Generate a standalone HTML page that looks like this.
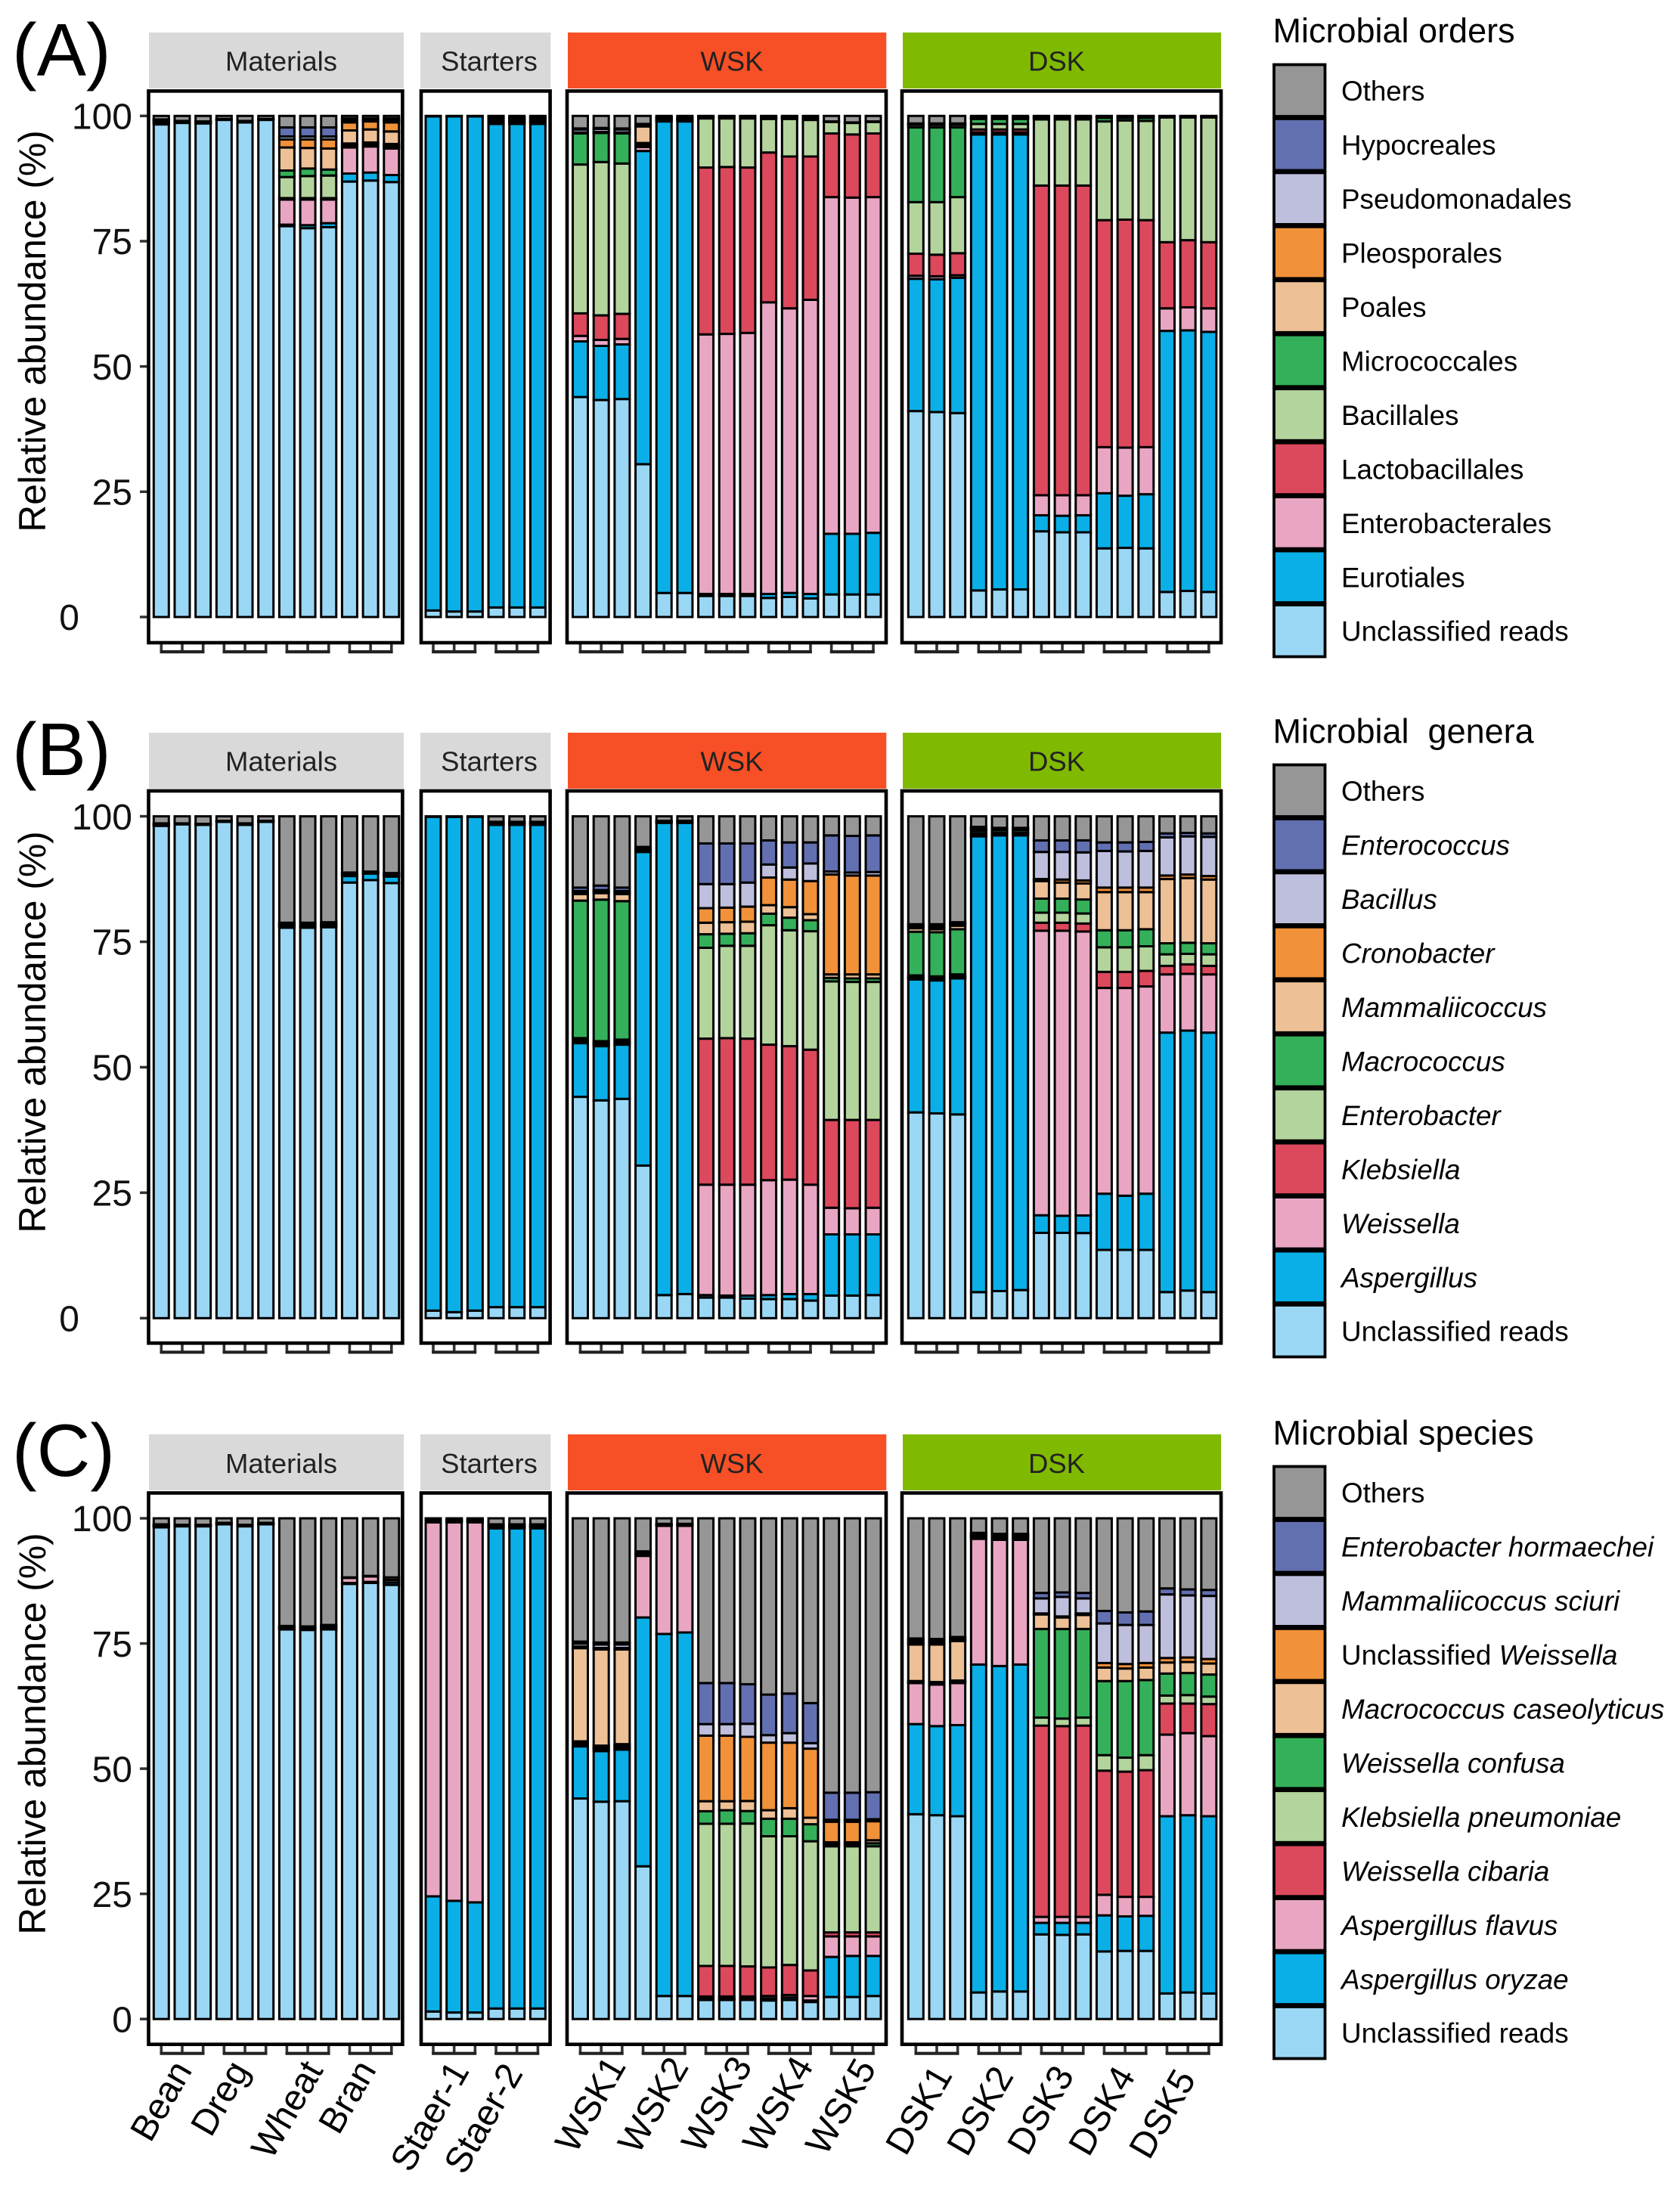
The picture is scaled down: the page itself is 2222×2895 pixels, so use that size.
<!DOCTYPE html>
<html lang="en">
<head>
<meta charset="utf-8">
<title>Microbial composition stacked bars</title>
<style>
html,body{margin:0;padding:0;background:#fff;}
svg{display:block;font-family:"Liberation Sans",Arial,sans-serif;}
text{white-space:pre;}
</style>
</head>
<body>
<svg id="chart" xmlns="http://www.w3.org/2000/svg" width="2222" height="2895" viewBox="0 0 2222 2895"></svg>
<script>
/* ---------- categories and tick labels ---------- */
const facetNames = ["Materials", "Starters", "WSK", "DSK"];
const facetBarCounts = [12, 6, 15, 15];
const sampleGroups = [
  ["Bean", "Dreg", "Wheat", "Bran"],
  ["Staer-1", "Staer-2"],
  ["WSK1", "WSK2", "WSK3", "WSK4", "WSK5"],
  ["DSK1", "DSK2", "DSK3", "DSK4", "DSK5"]
];
const yTicks = [0, 25, 50, 75, 100];
const panelLetters = ["(A)", "(B)", "(C)"];
const yAxisTitle = "Relative abundance (%)";
const legendTitles = ["Microbial orders", "Microbial  genera", "Microbial species"];
const orderNames = ["Unclassified reads","Eurotiales","Enterobacterales","Lactobacillales","Bacillales","Micrococcales","Poales","Pleosporales","Pseudomonadales","Hypocreales","Others"];
const generaNames = ["Unclassified reads","Aspergillus","Weissella","Klebsiella","Enterobacter","Macrococcus","Mammaliicoccus","Cronobacter","Bacillus","Enterococcus","Others"];
const speciesNames = ["Unclassified reads","Aspergillus oryzae","Aspergillus flavus","Weissella cibaria","Klebsiella pneumoniae","Weissella confusa","Macrococcus caseolyticus","Unclassified Weissella","Mammaliicoccus sciuri","Enterobacter hormaechei","Others"];

/* ---------- series values: one row per bar, segments bottom to top (% abundance) ---------- */
const ordersBars = [
[98.3,.2,.2,.2,.1,.1,.1,.1,0,0,.7],
[98.6,.1,.1,.1,.1,0,0,0,0,0,1.0],
[98.5,.1,.1,.1,.1,0,0,0,0,0,1.1],
[99.2,.1,.1,0,0,0,0,0,0,0,.6],
[98.7,.1,.1,.1,0,0,0,0,0,0,1.0],
[99.2,.1,.1,0,0,0,0,0,0,0,.6],
[78.0,.3,5.0,.3,4.2,1.3,4.6,1.6,.6,1.8,2.3],
[77.6,.6,5.1,.3,4.4,1.5,4.1,1.7,.6,1.8,2.3],
[77.8,.8,4.7,.3,4.5,1.2,4.2,1.8,.6,1.8,2.3],
[86.9,1.6,5.2,.2,.3,.3,2.6,1.6,.4,.4,.5],
[87.1,1.6,5.2,.3,.3,.2,2.6,1.6,.4,.2,.5],
[86.8,1.4,5.3,.3,.3,.3,2.5,1.8,.4,.4,.5],
[1.3,98.6,0,0,0,0,0,0,0,0,.1],
[1.1,98.8,0,0,0,0,0,0,0,0,.1],
[1.1,98.8,0,0,0,0,0,0,0,0,.1],
[1.9,96.5,.2,.2,.2,.2,.2,.2,.1,.1,.2],
[1.9,96.5,.2,.2,.2,.2,.2,.2,.1,.1,.2],
[1.9,96.5,.2,.2,.2,.2,.2,.2,.1,.1,.2],
[43.9,11.1,1.1,4.5,29.7,6.2,0,.2,.6,.2,2.5],
[43.3,10.8,1.2,4.9,30.6,5.8,0,.2,.6,.2,2.4],
[43.5,10.9,1.1,5.0,30.0,6.0,0,.2,.6,.2,2.5],
[30.5,62.5,.8,.3,.3,.2,3.3,.2,.1,.2,1.6],
[4.8,94.1,.2,.1,.1,.1,.1,.1,.1,.1,.2],
[4.8,94.1,.2,.1,.1,.1,.1,.1,.1,.1,.2],
[4.2,.4,51.8,33.3,9.8,.1,.1,.1,.1,.1,.0],
[4.2,.4,51.9,33.3,9.7,.1,.1,.1,.1,.1,.0],
[4.2,.4,52.1,33.0,9.8,.1,.1,.1,.1,.1,.0],
[3.8,.8,58.2,29.9,6.7,.1,.1,.1,.1,.2,.0],
[4.0,.8,56.8,30.3,7.5,.1,.1,.1,.1,.2,.0],
[3.7,.9,58.7,28.6,7.3,.2,.1,.1,.1,.3,.0],
[4.5,12.1,67.2,12.7,2.3,.1,0,0,0,0,1.1],
[4.5,12.1,67.1,12.6,2.3,.1,0,0,0,0,1.3],
[4.5,12.3,67.0,12.7,2.3,.1,0,0,0,0,1.1],
[41.1,26.4,.6,4.4,10.3,14.9,.5,.1,.1,.1,1.5],
[40.9,26.5,.6,4.3,10.5,14.9,.5,.1,.1,.1,1.5],
[40.7,27.0,.5,4.4,11.2,13.9,.5,.1,.1,.1,1.5],
[5.3,91.0,.4,.6,1.1,1.0,.1,.1,.1,.1,.2],
[5.5,90.8,.4,.6,1.1,1.0,.1,.1,.1,.1,.2],
[5.5,90.8,.4,.6,1.1,1.0,.1,.1,.1,.1,.2],
[17.1,3.2,4.0,61.8,13.2,.3,.1,.1,.1,.1,0],
[16.9,3.3,4.1,61.8,13.2,.3,.1,.1,.1,.1,0],
[16.9,3.4,4.0,61.8,13.2,.3,.1,.1,.1,.1,0],
[13.7,11.0,9.2,45.3,19.7,.7,.1,.1,.1,.1,0],
[13.8,10.4,9.6,45.5,19.8,.5,.1,.1,.1,.1,0],
[13.7,10.8,9.4,45.3,19.8,.6,.1,.1,.1,.1,0],
[5.0,52.1,4.5,13.2,24.9,.1,.1,0,0,0,.1],
[5.2,52.0,4.6,13.4,24.5,.1,.1,.1,0,0,0],
[5.0,51.9,4.7,13.2,24.9,.1,.1,0,0,0,.1]
];
const generaBars = [
[98.1,.1,.1,.1,.1,.1,0,0,0,0,1.4],
[98.4,.1,.1,0,0,0,0,0,0,0,1.4],
[98.3,.1,.1,0,0,0,0,0,0,0,1.5],
[98.9,.1,.1,0,0,0,0,0,0,0,.9],
[98.3,.1,.1,.1,0,0,0,0,0,0,1.4],
[98.9,.1,.1,0,0,0,0,0,0,0,.9],
[77.8,.2,.2,.2,.2,.2,0,0,0,0,21.2],
[77.8,.2,.2,.2,.2,.2,0,0,0,0,21.2],
[77.9,.2,.2,.2,.2,.2,0,0,0,0,21.1],
[86.8,1.3,.2,.2,.2,.1,0,0,0,0,11.2],
[87.2,1.3,.1,.1,.1,.1,0,0,0,0,11.0],
[86.7,1.3,.2,.2,.2,.1,0,0,0,0,11.3],
[1.5,98.4,0,0,0,0,0,0,0,0,.1],
[1.2,98.7,0,0,0,0,0,0,0,0,.1],
[1.5,98.4,0,0,0,0,0,0,0,0,.1],
[2.2,96.1,.1,.1,.1,.1,.1,.1,0,0,1.1],
[2.2,96.1,.1,.1,.1,.1,.1,.1,0,0,1.1],
[2.2,96.1,.1,.1,.1,.1,.1,.1,0,0,1.1],
[44.1,10.7,.3,.3,.4,27.4,1.3,.3,.3,.7,14.2],
[43.4,10.8,.3,.3,.4,28.2,1.3,.3,.3,.9,13.8],
[43.7,10.8,.3,.3,.4,27.6,1.4,.3,.3,.7,14.2],
[30.4,62.5,.2,.2,.2,.2,.2,0,0,0,6.1],
[4.6,94.1,.1,.1,.1,.1,0,0,0,0,.9],
[4.8,93.9,.1,.1,.1,.1,0,0,0,0,.9],
[4.1,.5,22.0,29.1,18.1,2.7,2.3,2.9,4.8,8.1,5.4],
[4.1,.4,22.1,29.2,18.4,2.4,2.3,2.9,4.7,8.1,5.4],
[3.9,.6,22.1,29.1,18.5,2.5,2.3,3.0,4.8,7.8,5.4],
[3.8,.8,22.9,27.0,23.8,2.3,1.7,5.5,2.6,4.8,4.8],
[3.8,1.0,22.8,26.6,23.1,2.5,2.1,5.5,2.4,5.0,5.2],
[3.5,1.3,21.8,26.9,23.6,2.2,1.2,6.6,3.5,4.2,5.2],
[4.5,12.2,5.3,17.5,27.6,.7,.7,19.9,.6,7.2,3.8],
[4.5,12.2,5.2,17.6,27.5,.7,.8,19.7,.6,7.3,3.9],
[4.6,12.1,5.3,17.5,27.5,.7,.8,19.7,.7,7.3,3.8],
[41.0,26.5,.2,.2,.4,8.7,.7,.3,.3,.2,21.5],
[40.8,26.5,.2,.2,.4,8.8,.6,.3,.3,.4,21.5],
[40.6,27.1,.2,.2,.4,9.0,.7,.3,.2,.2,21.1],
[5.2,91.0,.2,.2,.2,.5,.2,.2,.2,.2,2.1],
[5.4,90.8,.2,.2,.2,.5,.1,.1,.1,.1,2.3],
[5.6,90.6,.2,.2,.2,.5,.1,.1,.1,.1,2.3],
[17.0,3.5,56.7,1.6,2.0,2.8,3.5,.4,5.4,2.3,4.8],
[17.0,3.4,56.8,1.6,2.0,2.8,3.2,.6,5.5,2.3,4.8],
[17.0,3.5,56.7,1.6,2.0,2.8,3.2,.6,5.6,2.4,4.8],
[13.6,11.2,41.0,3.2,4.9,3.4,7.6,.9,7.3,1.7,5.2],
[13.6,10.8,41.4,3.2,4.9,3.4,7.6,.9,7.2,1.8,5.2],
[13.6,11.2,41.3,3.1,4.9,3.4,7.4,.9,7.3,1.8,5.1],
[5.2,51.7,11.6,1.7,2.3,2.2,12.8,.7,7.6,.8,3.4],
[5.5,51.8,11.3,1.9,2.1,2.2,12.9,.7,7.6,.7,3.3],
[5.2,51.7,11.6,1.7,2.3,2.2,12.7,.7,7.8,.7,3.4]
];
const speciesBars = [
[98.1,.1,.1,.1,.1,.1,.1,0,0,0,1.2],
[98.4,.1,.1,.1,0,0,0,0,0,0,1.3],
[98.4,.1,.1,.1,0,0,0,0,0,0,1.3],
[98.8,.1,.1,.1,0,0,0,0,0,0,.9],
[98.4,.1,.1,.1,0,0,0,0,0,0,1.3],
[98.8,.1,.1,.1,0,0,0,0,0,0,.9],
[77.8,.2,.2,.2,.1,0,0,0,0,0,21.5],
[77.7,.2,.2,.2,.1,0,0,0,0,0,21.6],
[77.8,.2,.2,.3,.2,0,0,0,0,0,21.3],
[86.9,.2,1.0,.1,0,0,0,0,0,0,11.8],
[87.1,.2,1.1,.1,0,0,0,0,0,0,11.5],
[86.7,.5,.5,.5,0,0,0,0,0,0,11.8],
[1.5,23.0,74.7,.1,.1,.1,.1,.1,.1,.1,.1],
[1.3,22.3,75.6,.1,.1,.1,.1,.1,.1,.1,.1],
[1.3,22.0,75.9,.1,.1,.1,.1,.1,.1,.1,.1],
[2.1,95.9,.1,.1,.1,.1,.1,.1,.1,.1,1.2],
[2.1,95.9,.1,.1,.1,.1,.1,.1,.1,.1,1.2],
[2.1,95.9,.1,.1,.1,.1,.1,.1,.1,.1,1.2],
[44.0,10.4,.3,.3,.2,.2,18.6,.3,.6,.4,24.6],
[43.4,10.1,.3,.3,.2,.3,19.2,.3,.7,.4,24.8],
[43.5,10.3,.3,.3,.2,.3,18.9,.3,.7,.4,24.8],
[30.5,49.7,12.3,.2,.2,.2,.2,.1,0,0,6.6],
[4.6,72.3,21.6,.1,.1,.1,.1,0,0,0,1.1],
[4.6,72.6,21.3,.1,.1,.1,.1,0,0,0,1.1],
[3.8,.3,.4,6.1,28.4,2.5,2.0,13.1,2.3,8.2,32.9],
[3.8,.3,.4,6.1,28.4,2.7,1.8,13.1,2.3,8.2,32.9],
[3.8,.3,.4,6.0,28.5,2.5,2.0,12.8,2.6,7.9,33.1],
[3.7,.4,.5,5.7,26.2,3.5,1.7,13.5,1.5,8.1,35.2],
[3.8,.5,.5,6.0,25.7,3.5,2.1,13.1,1.9,7.9,35.0],
[3.4,.3,.9,5.1,25.8,3.4,1.3,13.8,1.1,8.0,36.9],
[4.4,8.0,4.1,.8,17.2,.4,.4,4.1,.4,5.4,54.8],
[4.4,8.2,3.9,.8,17.2,.4,.4,4.1,.4,5.4,54.8],
[4.6,8.0,3.9,.8,17.2,.6,.6,3.8,.4,5.4,54.7],
[40.9,18.0,8.2,.1,.1,.2,7.3,.4,.4,.4,24.0],
[40.7,17.8,8.3,.1,.2,.2,7.5,.4,.4,.3,24.1],
[40.5,18.2,8.4,.2,.1,.2,7.9,.2,.4,.2,23.7],
[5.3,65.5,25.1,.2,.2,.2,.2,.2,.1,.1,2.9],
[5.5,65.0,25.2,.2,.2,.2,.2,.2,.1,.1,3.1],
[5.5,65.3,24.9,.2,.2,.2,.2,.2,.1,.1,3.1],
[16.9,2.3,1.2,38.2,1.6,17.7,2.9,.2,3.0,1.1,14.9],
[16.8,2.4,1.2,38.1,1.5,17.9,2.3,.2,3.9,.9,14.8],
[16.9,2.3,1.2,38.2,1.6,17.7,2.8,.3,3.0,1.1,14.9],
[13.5,7.2,4.1,24.8,3.1,14.8,2.7,.9,7.9,2.5,18.5],
[13.6,6.9,3.9,25.0,2.8,15.3,2.5,.9,7.8,2.5,18.8],
[13.6,7.0,3.8,25.3,3.0,15.0,2.5,.9,7.6,2.7,18.6],
[5.1,35.4,16.3,6.2,1.6,4.4,2.2,.9,12.7,1.2,14.0],
[5.3,35.4,16.4,5.9,1.7,4.4,2.2,.9,12.4,1.2,14.2],
[5.1,35.4,16.0,6.4,1.5,4.4,2.2,.9,12.6,1.2,14.3]
];

/* ---------- layout and styling ---------- */
const SVG_NS = "http://www.w3.org/2000/svg";
const svg = document.getElementById("chart");
const colors = ["#9AD7F5","#09AFE6","#E9A6C2","#DC485C","#B4D49E","#35B05A","#EDC095","#F19139","#BEBEDD","#626FB0","#969696"];
const stripColors = ["#D9D9D9","#D9D9D9","#F75026","#80BA00"];
const facetFirstBar = [213.3, 573, 767.5, 1211.3];
const barStep = 27.68;
const barWidth = 20;
const frameLeft = [196.5, 557, 750, 1193];
const frameRight = [532.4, 727.6, 1172, 1615];
const stripLeft = [197, 556, 751, 1194];
const stripRight = [534, 728.3, 1172.3, 1615];
const stripLabelX = [372, 647, 968, 1397.5];
const panels = [
  {bars: ordersBars, names: orderNames, italic: false, y0: 816, y100: 153.3, frameTop: 120.4, frameBottom: 850, stripTop: 43, stripBase: 93.6, letterBase: 100, titleY: 438, zeroRight: 105, legendBase: 56, keyTop: 84, showLabels: false},
  {bars: generaBars, names: generaNames, italic: true, y0: 1743.3, y100: 1079.6, frameTop: 1046, frameBottom: 1776.3, stripTop: 969, stripBase: 1019.7, letterBase: 1025, titleY: 1365, zeroRight: 105, legendBase: 982.5, keyTop: 1010, showLabels: false},
  {bars: speciesBars, names: speciesNames, italic: true, y0: 2670.2, y100: 2008, frameTop: 1974.5, frameBottom: 2703.7, stripTop: 1897, stripBase: 1948, letterBase: 1952, titleY: 2293, zeroRight: 175, legendBase: 1910.5, keyTop: 1938, showLabels: true}
];
const labelStartX = [199, 279, 359, 448, 543, 614, 761, 844, 928, 1009, 1092, 1198, 1279, 1359, 1440, 1520];
const labelStartY = [2835, 2828, 2858, 2825, 2875, 2878, 2850, 2851, 2850, 2850, 2853, 2853, 2854, 2853, 2854, 2858];
const romanLabels = ["Others", "Unclassified reads"];
const romanPrefix = "Unclassified ";

function make(tag, attrs, parent) {
  const el = document.createElementNS(SVG_NS, tag);
  for (const k in attrs) el.setAttribute(k, attrs[k]);
  (parent || svg).appendChild(el);
  return el;
}
function xScale(facet, i) { return facetFirstBar[facet] + i * barStep; }
function yScale(panel, v) { return panel.y0 - v * (panel.y0 - panel.y100) / 100; }

panels.forEach(function (panel, p) {
  const group = make("g", {});
  
  

  const letter = make("text", {x: 16, y: panel.letterBase, "font-size": 98, fill: "#000"}, group);
  letter.textContent = panelLetters[p];
  
  

  const yTitle = make("text", {x: 0, y: 0, "font-size": 49.8, fill: "#000", "text-anchor": "middle", transform: "translate(60 " + panel.titleY + ") rotate(-90)"}, group);
  yTitle.textContent = yAxisTitle;
  
  

  yTicks.forEach(function (t) {
    const ty = yScale(panel, t);
    const tick = make("line", {x1: 185, x2: 195, y1: ty, y2: ty, stroke: "#333", "stroke-width": 3.5}, group);
    
    
    const right = t === 0 ? panel.zeroRight : 175;
    const lab = make("text", {x: right, y: ty + 17.2, "font-size": 48, fill: "#111", "text-anchor": "end"}, group);
    lab.textContent = String(t);
    
    
  });

  let barIndex = 0;
  let labelIndex = 0;
  facetNames.forEach(function (name, f) {
    const strip = make("rect", {x: stripLeft[f], y: panel.stripTop, width: stripRight[f] - stripLeft[f], height: 74, fill: stripColors[f]}, group);
    
    
    const stripText = make("text", {x: stripLabelX[f], y: panel.stripBase, "font-size": 36.5, fill: "#222", "text-anchor": "middle"}, group);
    stripText.textContent = name;
    
    

    for (let i = 0; i < facetBarCounts[f]; i++) {
      const row = panel.bars[barIndex];
      const total = row.reduce(function (a, b) { return a + b; }, 0);
      const cx = xScale(f, i);
      let cum = 0;
      row.forEach(function (v, s) {
        const top = cum + v / total * 100;
        const yTop = yScale(panel, top);
        const yBot = yScale(panel, cum);
        cum = top;
        if (v <= 0) return;
        const seg = make("rect", {x: cx - barWidth / 2, y: yTop, width: barWidth, height: yBot - yTop, fill: colors[s], stroke: "#000", "stroke-width": 3}, group);
        
        
      });
      const xt = make("line", {x1: cx, x2: cx, y1: panel.frameBottom, y2: panel.frameBottom + 13.5, stroke: "#333", "stroke-width": 3.6}, group);
      
      
      barIndex++;
    }

    const frame = make("rect", {x: frameLeft[f], y: panel.frameTop, width: frameRight[f] - frameLeft[f], height: panel.frameBottom - panel.frameTop, fill: "none", stroke: "#000", "stroke-width": 4.6}, group);
    
    

    sampleGroups[f].forEach(function (sample, g) {
      const x1 = xScale(f, g * 3) - 1.8;
      const x2 = xScale(f, g * 3 + 2) + 1.8;
      const bracket = make("line", {x1: x1, x2: x2, y1: panel.frameBottom + 12, y2: panel.frameBottom + 12, stroke: "#222", "stroke-width": 4.2}, group);
      
      
      if (panel.showLabels) {
        const lx = labelStartX[labelIndex];
        const ly = labelStartY[labelIndex];
        const label = make("text", {x: 0, y: 0, "font-size": 48, fill: "#000", transform: "translate(" + lx + " " + ly + ") rotate(-60)"}, group);
        label.textContent = sample;
        
        
      }
      labelIndex++;
    });
  });

  /* legend */
  const legend = make("g", {}, group);
  
  
  const lt = make("text", {x: 1683.5, y: panel.legendBase, "font-size": 45, fill: "#000"}, legend);
  lt.textContent = legendTitles[p];
  
  
  const keyStep = 71.45;
  panel.names.slice().reverse().forEach(function (nm, k) {
    const s = panel.names.length - 1 - k;
    const ky = panel.keyTop + k * keyStep;
    const key = make("rect", {x: 1685, y: ky + 1.5, width: 67.5, height: 68.5, fill: colors[s], stroke: "#000", "stroke-width": 3.8}, legend);
    
    
    const txt = make("text", {x: 1774, y: ky + 49.2, "font-size": 36.8, fill: "#000"}, legend);
    
    
    if (!panel.italic || romanLabels.indexOf(nm) >= 0) {
      txt.textContent = nm;
    } else if (nm.indexOf(romanPrefix) === 0) {
      const a = make("tspan", {}, txt);
      a.textContent = romanPrefix;
      const b = make("tspan", {"font-style": "italic"}, txt);
      b.textContent = nm.slice(romanPrefix.length);
    } else {
      txt.setAttribute("font-style", "italic");
      txt.textContent = nm;
    }
  });
});
</script>
</body>
</html>
